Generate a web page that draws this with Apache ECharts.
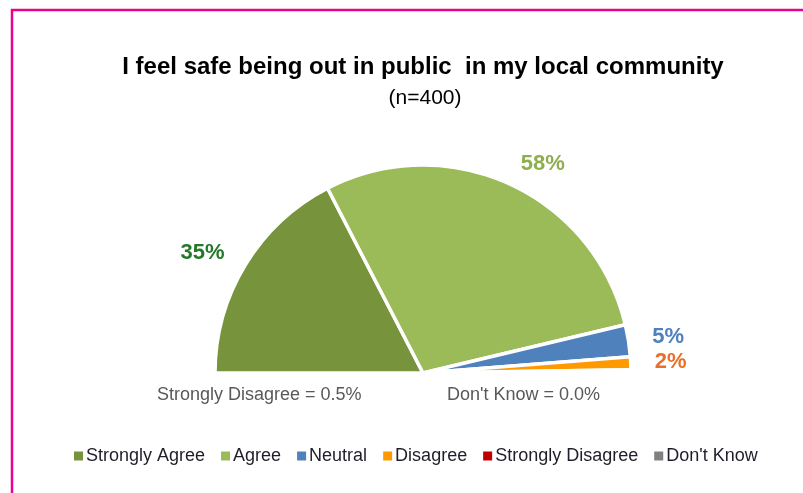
<!DOCTYPE html>
<html>
<head>
<meta charset="utf-8">
<script src="https://cdn.jsdelivr.net/npm/echarts@6/dist/echarts.min.js"></script>
<style>
  html, body { margin: 0; padding: 0; background: #fff; }
  #chart { width: 803px; height: 493px; }
</style>
</head>
<body>
<div id="chart"></div>
<script>
// Survey responses, percent of respondents (n=400)
const categories = ['Strongly Agree', 'Agree', 'Neutral', 'Disagree', 'Strongly Disagree', "Don't Know"];
const percents = [35, 58, 5, 2, 0.5, 0.0];
const sliceColors = ['#77933C', '#9BBB59', '#4F81BD', '#FF9900', '#C00000', '#808080'];
const labelColors = ['#23782A', '#8FAE4F', '#4F81BD', '#E8702A', '#C00000', '#808080'];
// Categories too small to label on the pie get a note underneath instead
const notedIndices = [4, 5];

const titleText = 'I feel safe being out in public  in my local community';
const subtitleText = '(n=400)';

const font = 'Liberation Sans, Arial, sans-serif';

const chart = echarts.init(document.getElementById('chart'));

const pieData = categories.map((name, i) => ({
  name: name,
  value: percents[i],
  itemStyle: { color: sliceColors[i] },
  label: {
    show: !notedIndices.includes(i) && percents[i] > 0,
    color: labelColors[i]
  }
}));

const notes = notedIndices.map(i => categories[i] + ' = ' + percents[i].toFixed(1) + '%');

chart.setOption({
  backgroundColor: '#fff',
  animation: false,
  title: [
    {
      text: titleText,
      left: 418, top: 50, textAlign: 'center',
      textStyle: { fontFamily: font, fontWeight: 'bold', fontSize: 24, color: '#000' }
    },
    {
      text: subtitleText,
      left: 420, top: 83, textAlign: 'center',
      textStyle: { fontFamily: font, fontWeight: 'normal', fontSize: 21, color: '#000' }
    }
  ],
  legend: {
    data: categories,
    left: 72, top: 447, padding: 0,
    icon: 'rect', itemWidth: 11, itemHeight: 11, itemGap: 14,
    selectedMode: false,
    textStyle: { fontFamily: font, fontSize: 18, color: '#1E1E2A', padding: [0, 0, 0, -3] }
  },
  graphic: [
    {
      type: 'rect', silent: true,
      shape: { x: 12, y: 10, width: 900, height: 600 },
      style: { fill: 'none', stroke: '#EC008C', lineWidth: 2.5 }
    },
    {
      type: 'text', left: 157, top: 386, silent: true,
      style: { text: notes[0], font: '18px ' + font, fill: '#595959' }
    },
    {
      type: 'text', left: 447, top: 386, silent: true,
      style: { text: notes[1], font: '18px ' + font, fill: '#595959' }
    }
  ],
  series: [{
    type: 'pie',
    center: [423, 373],
    radius: 208,
    startAngle: 180,
    endAngle: 0,
    clockwise: true,
    avoidLabelOverlap: false,
    stillShowZeroSum: false,
    itemStyle: { borderColor: '#fff', borderWidth: 3.5 },
    label: {
      position: 'outside',
      formatter: p => Math.round(p.value) + '%',
      fontFamily: font, fontWeight: 'bold', fontSize: 22,
      distanceToLabelLine: 2
    },
    labelLine: { show: false, length: 22, length2: 0 },
    emphasis: { disabled: true },
    data: pieData
  }]
});
</script>
</body>
</html>
